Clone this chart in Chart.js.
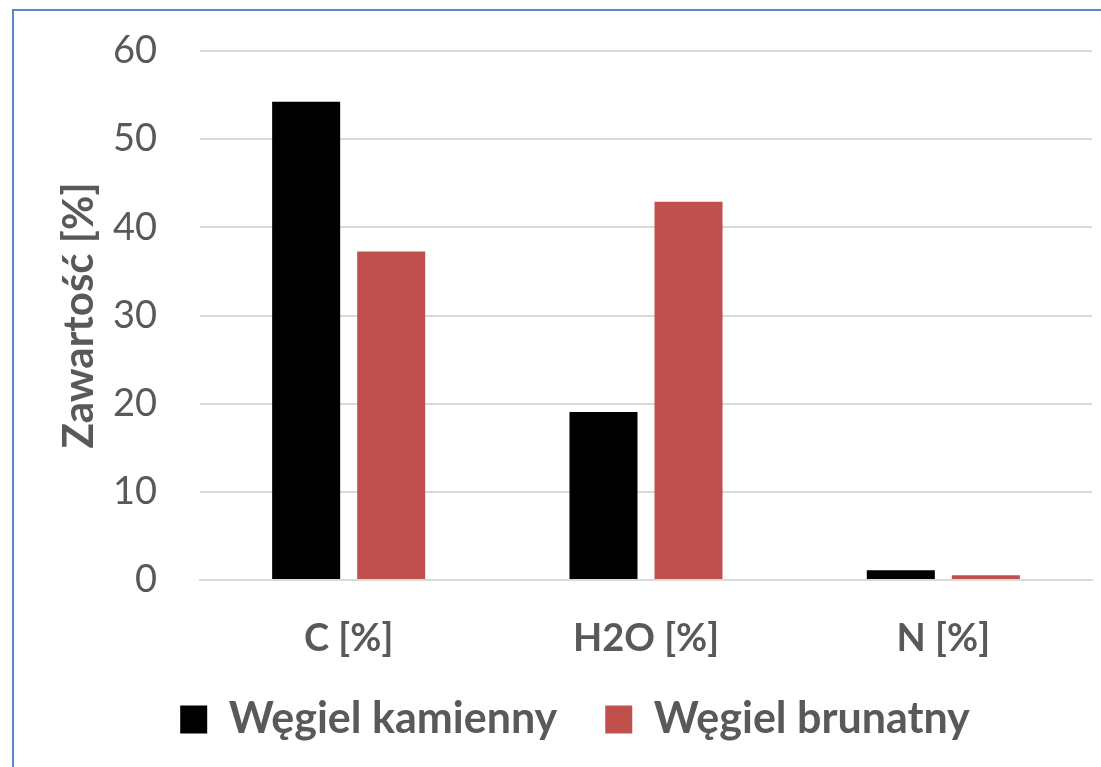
<!DOCTYPE html>
<html>
<head>
<meta charset="utf-8">
<script src="https://cdn.jsdelivr.net/npm/chart.js@4"></script>
<style>
  html, body { margin: 0; padding: 0; background: #fff; overflow: hidden; }
  #wrap { position: relative; width: 1101px; height: 767px; }
  #frame { position: absolute; left: 12px; top: 9px; width: 1200px; height: 900px;
           border-left: 2px solid #5b87c9; border-top: 2px solid #5b87c9; pointer-events: none; }
</style>
</head>
<body>
<div id="wrap">
  <canvas id="chart" width="1101" height="767"></canvas>
  <div id="frame"></div>
</div>
<script>
// --- data ---
const categories = ['C [%]', 'H2O [%]', 'N [%]'];
const kamienny = [54.25, 19.05, 1.1];   // Węgiel kamienny
const brunatny = [37.25, 42.9, 0.55];   // Węgiel brunatny
const yTicks = [0, 10, 20, 30, 40, 50, 60];

const GRAY = '#595959';
const FONT = 'Lato, "Open Sans", sans-serif';

// x labels hang a bit below the axis box (legend sits close), so stop them being clipped
const unclipX = {
  id: 'unclipX',
  afterLayout(chart) { chart.scales.x.bottom += 24; }
};

const ctx = document.getElementById('chart').getContext('2d');
new Chart(ctx, {
  type: 'bar',
  data: {
    labels: categories,
    datasets: [
      { label: 'Węgiel kamienny', data: kamienny, backgroundColor: '#000000', borderWidth: 0 },
      { label: 'Węgiel brunatny', data: brunatny, backgroundColor: '#c0504d', borderWidth: 0 }
    ]
  },
  plugins: [unclipX],
  options: {
    responsive: false,
    animation: false,
    devicePixelRatio: 1,
    layout: { padding: { left: 58, right: 9, top: 51, bottom: 16 } },
    datasets: { bar: { categoryPercentage: 0.572, barPercentage: 0.8 } },
    plugins: {
      tooltip: { enabled: false },
      legend: {
        position: 'bottom',
        labels: {
          color: GRAY,
          font: { family: FONT, size: 43, weight: 'bold' },
          boxWidth: 27, boxHeight: 28,
          padding: 48
        }
      }
    },
    scales: {
      x: {
        afterFit: (s) => { s.height = 70; },
        grid: { display: false },
        border: { display: true, color: '#d9d9d9', width: 2 },
        ticks: { color: GRAY, font: { family: FONT, size: 38, weight: 'bold' }, padding: 28 }
      },
      y: {
        min: 0, max: 60,
        afterBuildTicks: (s) => { s.ticks = yTicks.map(v => ({ value: v })); },
        afterFit: (s) => { s.width = 142; s.paddingTop = 0; s.paddingBottom = 0; },
        grid: { color: '#d9d9d9', lineWidth: 2, drawTicks: false },
        border: { display: false },
        ticks: { color: GRAY, font: { family: FONT, size: 38 }, padding: 43 },
        title: {
          display: true, text: 'Zawartość [%]', color: GRAY,
          font: { family: FONT, size: 42, weight: 'bold' }, padding: { top: -4, bottom: 0 }
        }
      }
    }
  }
});
</script>
</body>
</html>
